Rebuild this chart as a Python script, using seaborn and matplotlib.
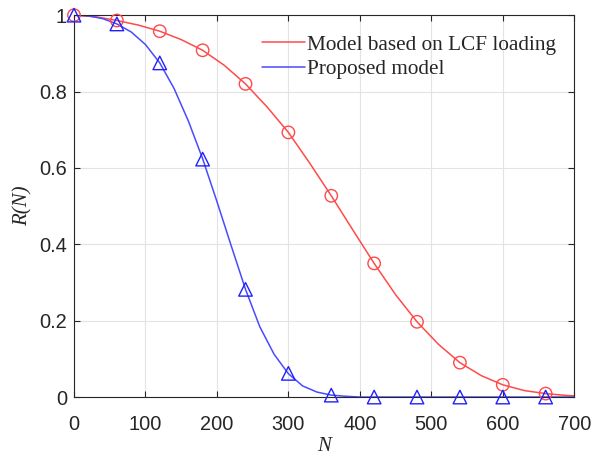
import numpy as np
import pandas as pd
import matplotlib
matplotlib.use("Agg")
import matplotlib.pyplot as plt
import seaborn as sns

# red curve (model based on LCF loading)
red_n = [0, 30, 60, 90, 120, 150, 180, 210, 240, 270, 300, 330, 360, 390,
         420, 450, 480, 510, 540, 570, 600, 630, 660, 690, 700]
red_r = [1.0, 0.996, 0.986, 0.974, 0.958, 0.936, 0.908, 0.869, 0.820, 0.760,
         0.693, 0.612, 0.527, 0.438, 0.350, 0.268, 0.197, 0.138, 0.090, 0.056,
         0.032, 0.017, 0.009, 0.004, 0.003]

# blue curve (proposed model)
blue_n = [0, 20, 40, 60, 80, 100, 120, 140, 160, 180, 200, 220, 240, 260,
          280, 300, 320, 340, 360, 380, 400, 700]
blue_r = [1.0, 0.998, 0.991, 0.977, 0.956, 0.923, 0.875, 0.808, 0.723, 0.624,
          0.512, 0.396, 0.282, 0.184, 0.112, 0.061, 0.029, 0.013, 0.005, 0.002,
          0.0, 0.0]

# marker points
mark_n = [0, 60, 120, 180, 240, 300, 360, 420, 480, 540, 600, 660]
red_marks = [1.0, 0.986, 0.958, 0.908, 0.820, 0.693, 0.527, 0.350, 0.197,
             0.090, 0.032, 0.009]
blue_marks = [1.0, 0.977, 0.875, 0.623, 0.282, 0.062, 0.005, 0.0, 0.0, 0.0,
              0.0, 0.0]

labels = ['Model based on LCF loading', 'Proposed model']
red = '#ff4a4a'
blue = '#4a4aff'

sns.set_style('whitegrid')
plt.rcParams['font.family'] = ['Liberation Sans', 'DejaVu Sans']

fig = plt.figure(figsize=(5.92, 4.59), dpi=100)
ax = fig.add_axes([0.125, 0.135, 0.845, 0.832])

df_red = pd.DataFrame({'N': red_n, 'R': red_r})
df_blue = pd.DataFrame({'N': blue_n, 'R': blue_r})
sns.lineplot(data=df_red, x='N', y='R', color=red, lw=1.1, ax=ax, label=labels[0])
sns.lineplot(data=df_blue, x='N', y='R', color=blue, lw=1.1, ax=ax, label=labels[1])

df_mk = pd.DataFrame({'N': mark_n, 'red': red_marks, 'blue': blue_marks})
sns.scatterplot(data=df_mk, x='N', y='red', marker='o', s=80, facecolor='none',
                edgecolor=red, linewidth=1.0, ax=ax, zorder=3, clip_on=False)
sns.scatterplot(data=df_mk, x='N', y='blue', marker='^', s=95, facecolor='none',
                edgecolor='#2020ff', linewidth=1.0, ax=ax, zorder=4, clip_on=False)

ax.set_xlim(0, 700)
ax.set_ylim(0, 1)
ax.set_xticks(np.arange(0, 701, 100))
ax.set_yticks([0, 0.2, 0.4, 0.6, 0.8, 1])
ax.set_yticklabels(['0', '0.2', '0.4', '0.6', '0.8', '1'])
ax.grid(True, color='#e3e3e3', lw=0.8)
for s in ax.spines.values():
    s.set_color('#262626')
    s.set_linewidth(0.8)
ax.tick_params(direction='in', length=4, width=0.8, color='#262626',
               labelsize=14.4, labelcolor='#262626', top=True, right=True,
               bottom=True, left=True)
ax.tick_params(axis='x', pad=13)
ax.tick_params(axis='y', pad=5)

ax.set_xlabel('N', family='Liberation Serif', style='italic', fontsize=15,
              color='#262626', labelpad=2)
ax.set_ylabel('R(N)', family='Liberation Serif', style='italic', fontsize=15,
              color='#262626', labelpad=5)

leg = ax.legend(loc='upper left', bbox_to_anchor=(0.375, 0.948), frameon=False,
                borderaxespad=0, borderpad=0, handlelength=2.05, handletextpad=0.1,
                labelspacing=0.2, prop={'family': 'Liberation Serif', 'size': 15.3})

fig.savefig('out.png', dpi=100)
